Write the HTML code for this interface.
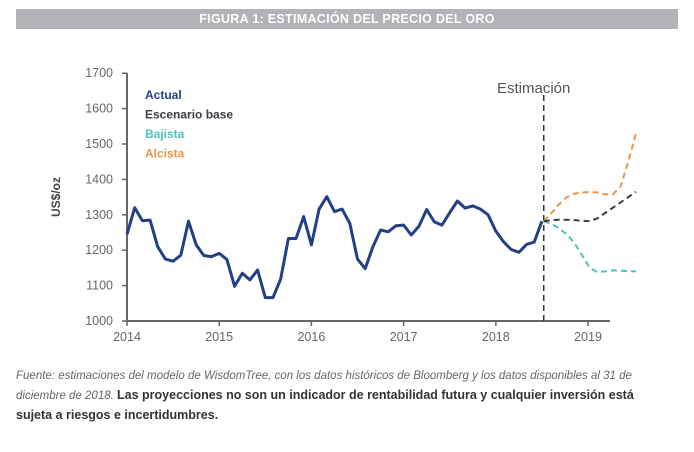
<!DOCTYPE html>
<html><head><meta charset="utf-8"><style>
body{margin:0;width:694px;height:452px;background:#fff;font-family:"Liberation Sans",sans-serif;overflow:hidden;position:relative}
#hdr{position:absolute;left:16px;top:9px;width:662px;height:20px;background:#b1b3b6;color:#fff;font-weight:bold;font-size:12.5px;text-align:center;line-height:20px;letter-spacing:.3px}
#src{position:absolute;left:16px;top:367px;width:652px;font-size:11.5px;line-height:19px;color:#555}
#src i{color:#666}
#src b{color:#333;font-size:12.5px}
</style></head><body>
<div id="hdr">FIGURA 1: ESTIMACIÓN DEL PRECIO DEL ORO</div>
<svg id="chart" width="694" height="360" style="position:absolute;left:0;top:0"></svg>
<div id="src"><i>Fuente: estimaciones del modelo de WisdomTree, con los datos históricos de Bloomberg y los datos disponibles al 31 de diciembre de 2018.</i> <b>Las proyecciones no son un indicador de rentabilidad futura y cualquier inversión está sujeta a riesgos e incertidumbres.</b></div>
<script>
const actual=[1245,1320,1283,1285,1210,1175,1169,1186,1282,1215,1185,1182,1191,1174,1098,1135,1116,1144,1066,1066,1119,1233,1233,1295,1215,1316,1351,1309,1316,1276,1175,1148,1210,1257,1252,1269,1271,1243,1268,1315,1280,1271,1306,1339,1319,1325,1316,1300,1254,1224,1202,1194,1216,1223,1282];
const baseCase=[1282,1285,1286,1286,1285,1283,1282,1290,1305,1320,1335,1350,1365];
const bearish=[1282,1275,1262,1245,1220,1185,1150,1138,1140,1143,1142,1141,1140];
const bullish=[1282,1305,1330,1350,1360,1363,1364,1363,1358,1358,1380,1450,1530];
const yTicks=[1000,1100,1200,1300,1400,1500,1600,1700];
const xTicks=[2014,2015,2016,2017,2018,2019];
const actualStart=2014, projStart=2018.52;
const svg=document.getElementById('chart'),NS='http://www.w3.org/2000/svg';
const X=t=>127+(t-2014)*92.2, Y=v=>321-(v-1000)*0.354;
function mk(tag,attrs,txt){const e=document.createElementNS(NS,tag);for(const k in attrs)e.setAttribute(k,attrs[k]);if(txt!==undefined)e.textContent=txt;svg.appendChild(e);return e;}
let e=mk('line',{x1:127,y1:73,x2:127,y2:322,stroke:'#666','stroke-width':2});

e=mk('line',{x1:126,y1:321,x2:610,y2:321,stroke:'#666','stroke-width':2});

yTicks.forEach(v=>{
 e=mk('text',{x:113,y:Y(v)+4,'text-anchor':'end','font-size':12.5,fill:'#666'},v);
 
 mk('line',{x1:122,y1:Y(v),x2:127,y2:Y(v),stroke:'#666','stroke-width':1.5});
});
xTicks.forEach(t=>{
 e=mk('text',{x:X(t),y:341,'text-anchor':'middle','font-size':12.5,fill:'#666'},t);
 
 mk('line',{x1:X(t),y1:321,x2:X(t),y2:326,stroke:'#666','stroke-width':1.5});
});
e=mk('text',{x:0,y:0,transform:'translate(60,197) rotate(-90)','text-anchor':'middle','font-size':12,'font-weight':'bold',fill:'#444'},'US$/oz');

e=mk('line',{x1:X(projStart),y1:95,x2:X(projStart),y2:321,stroke:'#333','stroke-width':1.5,'stroke-dasharray':'6,4'});

e=mk('text',{x:497,y:93,'font-size':15,fill:'#555'},'Estimación');

function line(arr,start,color,dash,name){
 const p=arr.map((v,i)=>X(start+i/12).toFixed(1)+','+Y(v).toFixed(1)).join(' ');
 const a={points:p,fill:'none',stroke:color,'stroke-width':dash?2:3,'stroke-linejoin':'round'};
 if(dash)a['stroke-dasharray']='6,4';
 const el=mk('polyline',a);
 
}
line(bullish,projStart,'#e8964a',1,'series-alcista');
line(bearish,projStart,'#4fbfbe',1,'series-bajista');
line(baseCase,projStart,'#3c3c46',1,'series-escenario-base');
line(actual,actualStart,'#233f85',0,'series-actual');
[['Actual','#233f85'],['Escenario base','#3c3c46'],['Bajista','#4fbfbe'],['Alcista','#e8964a']].forEach((l,i)=>{
 const t=mk('text',{x:145,y:99+i*19.5,'font-size':12,'font-weight':'bold',fill:l[1]},l[0]);
 
});
</script>
</body></html>
